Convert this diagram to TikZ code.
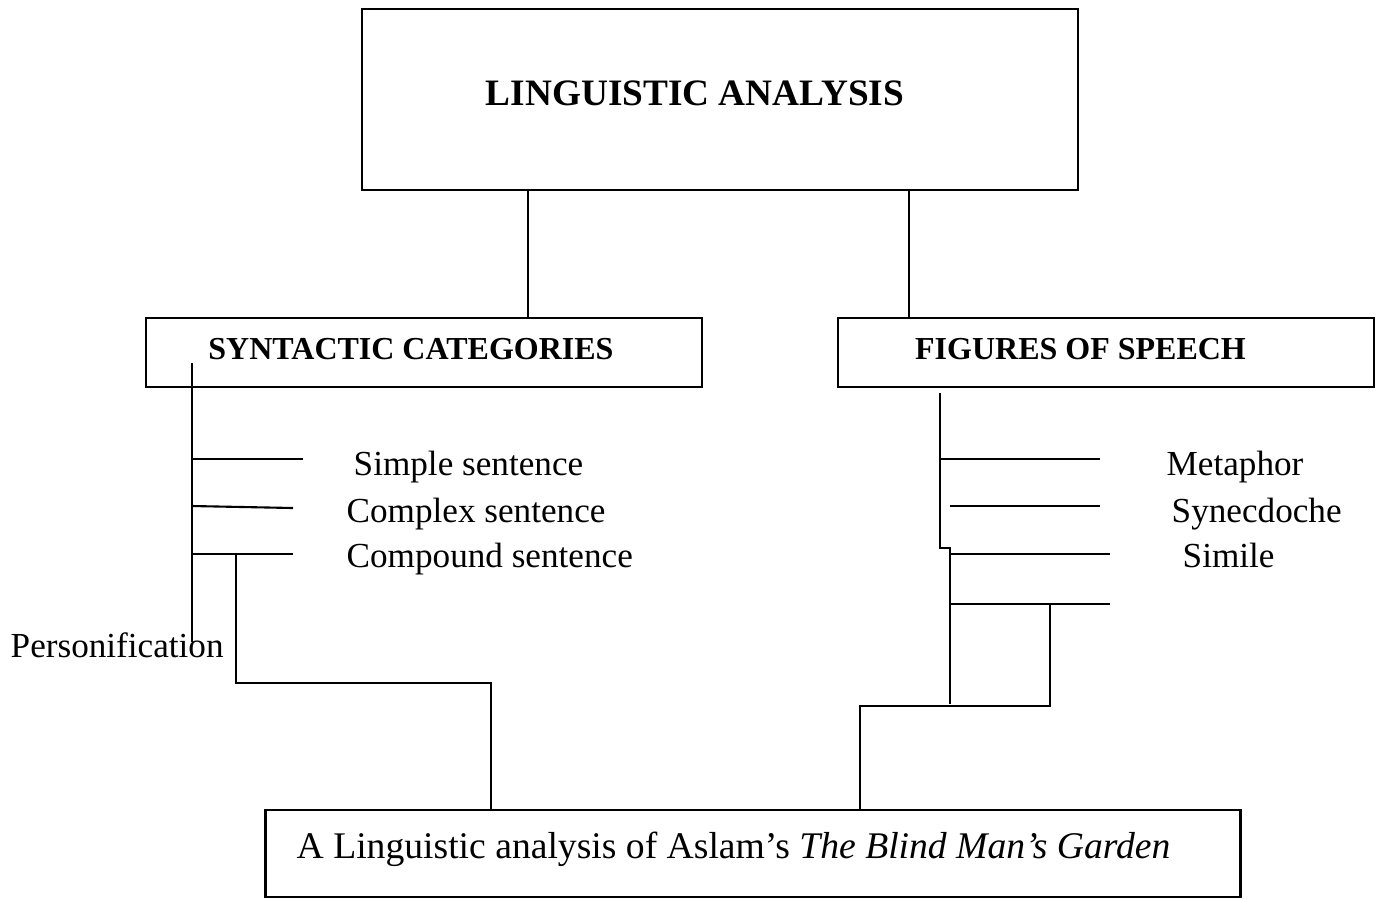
\documentclass[tikz,border=0pt]{standalone}
\usepackage{fontspec}
\setmainfont{Liberation Serif}
\usepackage{tikz}

\tikzset{
  box/.style={draw, line width=0.7pt, inner sep=0pt},
  head/.style={inner sep=0pt, anchor=base, font=\fontsize{9.1}{11}\selectfont\bfseries},
  item/.style={inner sep=0pt, anchor=base west, font=\fontsize{10}{12}\selectfont},
  link/.style={line width=0.6pt}
}

\begin{document}
\begin{tikzpicture}[x=0.01cm, y=-0.01cm]
    \useasboundingbox (0,0) rectangle (1382,899);
    % boxes
    \node[box, minimum width=7.16cm, minimum height=1.81cm] (top) at (720,99.5) {};
    \node[inner sep=0pt, anchor=base, font=\fontsize{10.6}{12}\selectfont\bfseries] (toptext) at (695,105) {LINGUISTIC ANALYSIS};
    \node[box, minimum width=5.56cm, minimum height=0.69cm] (syn) at (424,352.5) {};
    \node[head] (syntext) at (411,359) {SYNTACTIC CATEGORIES};
    \node[box, minimum width=5.36cm, minimum height=0.69cm] (fig) at (1106,352.5) {};
    \node[head] (figtext) at (1080.5,359) {FIGURES OF SPEECH};
    \node[box, minimum width=9.74cm, minimum height=0.87cm] (bot) at (753,853.5) {};
    \node[inner sep=0pt, anchor=base west, font=\fontsize{10.7}{12}\selectfont] (bottext) at (296,858) {A Linguistic analysis of Aslam’s \textit{The Blind Man’s Garden}};
    % labels
    \node[item] (simple) at (353,475) {Simple sentence};
    \node[item] (complex) at (346,522) {Complex sentence};
    \node[item] (compound) at (346,567) {Compound sentence};
    \node[item] (person) at (10,657) {Personification};
    \node[item] (metaphor) at (1166,475) {Metaphor};
    \node[item] (synec) at (1171,522) {Synecdoche};
    \node[item] (simile) at (1182,567) {Simile};
    % top links
    \coordinate (lx) at (528,0);
    \coordinate (rx) at (909,0);
    \draw[link] (top.south -| lx) -- (syn.north -| lx);
    \draw[link] (top.south -| rx) -- (fig.north -| rx);
    % left tree
    \coordinate (ltop) at (192,363);
    \coordinate (lend) at (192,642);
    \coordinate (l1) at (303,459);
    \coordinate (l2) at (293,508);
    \coordinate (l3) at (293,554);
    \draw[link] (ltop) -- (lend);
    \draw[link] (l1 -| ltop) -- (l1);
    \draw[link] (192,506) -- (l2);
    \draw[link] (l3 -| ltop) -- (l3);
    \draw[link] (236,554) -- (236,683) -- (491,683) -- (bot.north -| 491,0);
    % right tree
    \coordinate (rtop) at (940,393);
    \coordinate (r1) at (1100,459);
    \coordinate (r2) at (1100,506);
    \coordinate (r3) at (1110,554);
    \coordinate (r4) at (1110,604);
    \draw[link] (rtop) -- (940,548) -- (950,548) -- (950,704);
    \draw[link] (r1 -| rtop) -- (r1);
    \draw[link] (950,506) -- (r2);
    \draw[link] (950,554) -- (r3);
    \draw[link] (950,604) -- (r4);
    \draw[link] (1050,604) -- (1050,706) -- (860,706) -- (bot.north -| 860,0);
\end{tikzpicture}
\end{document}
